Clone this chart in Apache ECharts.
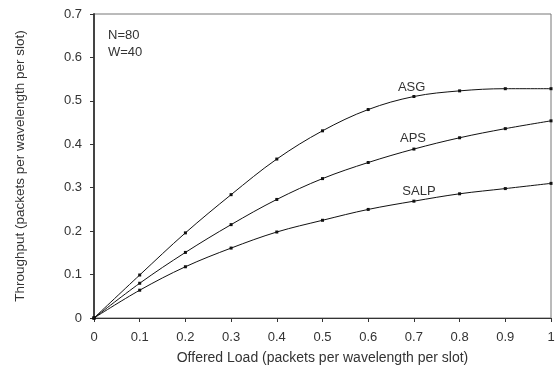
<!DOCTYPE html>
<html><head><meta charset="utf-8">
<script src="https://cdn.jsdelivr.net/npm/echarts@6/dist/echarts.min.js"></script>
<style>html,body{margin:0;padding:0;background:#fff}#c{width:560px;height:370px}</style>
</head><body><div id="c"></div>
<script>
const load = [0, 0.1, 0.2, 0.3, 0.4, 0.5, 0.6, 0.7, 0.8, 0.9, 1.0];
const asg  = [0, 0.099, 0.196, 0.284, 0.366, 0.431, 0.480, 0.510, 0.523, 0.528, 0.528];
const aps  = [0, 0.080, 0.151, 0.215, 0.273, 0.321, 0.358, 0.389, 0.415, 0.436, 0.454];
const salp = [0, 0.064, 0.118, 0.161, 0.198, 0.225, 0.250, 0.269, 0.286, 0.298, 0.310];
const seriesNames = ['ASG', 'APS', 'SALP'];
const labelAt = [[0.695, 0.531], [0.698, 0.414], [0.711, 0.292]];
const xTitle = 'Offered Load (packets per wavelength per slot)';
const yTitle = 'Throughput (packets per wavelength per slot)';
const notes = ['N=80', 'W=40'];

const font = 'Liberation Sans, Arial, sans-serif';
const allData = [asg, aps, salp];
const chart = echarts.init(document.getElementById('c'));
chart.setOption({
  animation: false,
  grid: {left: 94, right: 9, top: 14, bottom: 51, show: true, borderColor: '#777', borderWidth: 1},
  xAxis: {
    type: 'value', min: 0, max: 1, interval: 0.1,
    name: xTitle, nameLocation: 'middle', nameGap: 33,
    nameTextStyle: {fontFamily: font, fontSize: 14, color: '#333'},
    axisLine: {lineStyle: {color: '#333', width: 1}},
    axisTick: {show: true, length: 4, lineStyle: {color: '#333'}},
    axisLabel: {fontFamily: font, fontSize: 13, color: '#333', margin: 13,
      formatter: v => (Math.round(v*10)/10).toString()},
    splitLine: {show: false}
  },
  yAxis: {
    type: 'value', min: 0, max: 0.7, interval: 0.1,
    name: yTitle, nameLocation: 'middle', nameGap: 67,
    nameTextStyle: {fontFamily: font, fontSize: 13.5, color: '#333'},
    axisLine: {lineStyle: {color: '#444', width: 2}},
    axisTick: {show: true, length: 4, lineStyle: {color: '#333'}},
    axisLabel: {fontFamily: font, fontSize: 13, color: '#333', margin: 12,
      formatter: v => (Math.round(v*10)/10).toString()},
    splitLine: {show: false}
  },
  graphic: notes.map((t, i) => ({
    type: 'text', left: 108, top: 29 + i * 17,
    style: {text: t, font: '13px ' + font, fill: '#333'}
  })),
  series: allData.map((d, i) => ({
    name: seriesNames[i], type: 'line', smooth: 0.35,
    data: load.map((x, j) => [x, d[j]]),
    symbol: 'rect', symbolSize: 3, showSymbol: true,
    lineStyle: {color: '#111', width: 1},
    itemStyle: {color: '#111'},
    markPoint: {
      symbol: 'rect', symbolSize: 0,
      data: [{coord: labelAt[i], value: seriesNames[i]}],
      label: {show: true, position: 'inside', formatter: seriesNames[i],
        fontFamily: font, fontSize: 13, color: '#333'}
    }
  }))
});
</script></body></html>
